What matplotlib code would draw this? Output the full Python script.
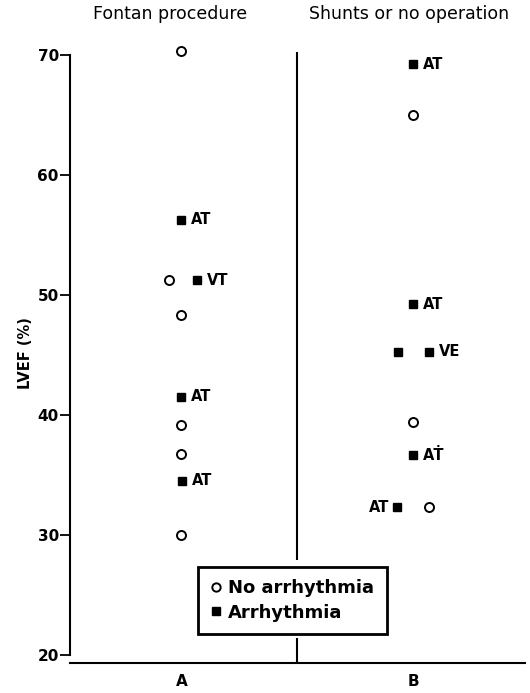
import matplotlib
matplotlib.use("Agg")
import matplotlib.pyplot as plt
from matplotlib.lines import Line2D

# group positions on the x axis
groups = ["A", "B"]
titles = ["Fontan procedure", "Shunts or no operation"]

# Fontan procedure (group A)
fontan_none = [70.3, 51.2, 48.3, 39.1, 36.7, 30.0]
fontan_none_dx = [0, -0.052, 0, 0, 0, 0]
fontan_arr = [56.25, 51.2, 41.5, 34.5]
fontan_arr_dx = [0, 0.069, 0, 0.004]
fontan_arr_labels = ["AT", "VT", "AT", "AT"]

# Shunts or no operation (group B)
shunt_none = [65.0, 39.4, 32.3]
shunt_none_dx = [0, 0, 0.069]
shunt_arr = [69.2, 49.2, 45.25, 45.25, 36.6, 32.3]
shunt_arr_dx = [0, 0, -0.064, 0.069, 0, -0.069]
shunt_arr_labels = ["AT", "AT", "", "VE", "A\u1E6A", "AT"]
shunt_arr_side = ["r", "r", "r", "r", "r", "l"]

yticks = [20, 30, 40, 50, 60, 70]


def draw_group(ax, x0, none_y, none_dx, arr_y, arr_dx, labels, sides):
    """Plot open circles and filled squares for one group."""
    ax.plot([x0 + d for d in none_dx], none_y, "o", ms=6.5, mfc="white",
            mec="black", mew=1.4, ls="none", zorder=3)
    ax.plot([x0 + d for d in arr_dx], arr_y, "s", ms=6, mfc="black",
            mec="black", ls="none", zorder=3)
    for d, y, lab, side in zip(arr_dx, arr_y, labels, sides):
        if not lab:
            continue
        if side == "r":
            ax.annotate(lab, (x0 + d, y), xytext=(7, 0),
                        textcoords="offset points", va="center",
                        ha="left", fontsize=10.5, fontweight="bold")
        else:
            ax.annotate(lab, (x0 + d, y), xytext=(-6, 0),
                        textcoords="offset points", va="center",
                        ha="right", fontsize=10.5, fontweight="bold")


def main():
    fig = plt.figure(figsize=(5.3, 6.93), dpi=100)
    ax = fig.add_axes([0.132, 0.0433, 0.858, 0.895])

    draw_group(ax, 1, fontan_none, fontan_none_dx, fontan_arr,
               fontan_arr_dx, fontan_arr_labels, ["r"] * 4)
    draw_group(ax, 2, shunt_none, shunt_none_dx, shunt_arr,
               shunt_arr_dx, shunt_arr_labels, shunt_arr_side)

    # divider between the two groups
    ax.vlines(1.5, 27.9, 70.2, color="black", lw=1.5)
    ax.vlines(1.5, 19.3, 21.4, color="black", lw=1.5)

    ax.set_xlim(0.52, 2.48)
    ax.set_ylim(19.3, 71)
    ax.set_yticks(yticks)
    ax.set_yticklabels([str(t) for t in yticks], fontsize=11,
                       fontweight="bold")
    ax.set_xticks([1, 2])
    ax.set_xticklabels(groups, fontsize=11, fontweight="bold")
    ax.tick_params(axis="x", length=0, pad=8)
    ax.tick_params(axis="y", length=7, width=1.3, direction="out", pad=1)
    ax.set_ylabel("LVEF (%)", fontsize=10.5, fontweight="bold", labelpad=3)

    for s in ["top", "right"]:
        ax.spines[s].set_visible(False)
    ax.spines["left"].set_bounds(20, 70)
    ax.spines["left"].set_linewidth(1.5)
    ax.spines["bottom"].set_linewidth(1.5)

    for x, t in zip([0.95, 1.98], titles):
        ax.text(x, 1.046, t, transform=ax.get_xaxis_transform(),
                ha="center", va="center", fontsize=12.5)

    handles = [
        Line2D([], [], marker="o", ls="none", ms=6, mfc="white",
               mec="black", mew=1.4),
        Line2D([], [], marker="s", ls="none", ms=6, mfc="black",
               mec="black"),
    ]
    leg = ax.legend(handles, ["No arrhythmia", "Arrhythmia"], loc="center",
                    bbox_to_anchor=(0.489, 0.101), fontsize=13,
                    frameon=True, fancybox=False, edgecolor="black",
                    framealpha=1, handlelength=0.6, handletextpad=0.4,
                    borderpad=0.7, labelspacing=0.35)
    leg.get_frame().set_linewidth(2)
    for t in leg.get_texts():
        t.set_fontweight("bold")

    fig.savefig("out.png", dpi=100)


if __name__ == "__main__":
    main()
